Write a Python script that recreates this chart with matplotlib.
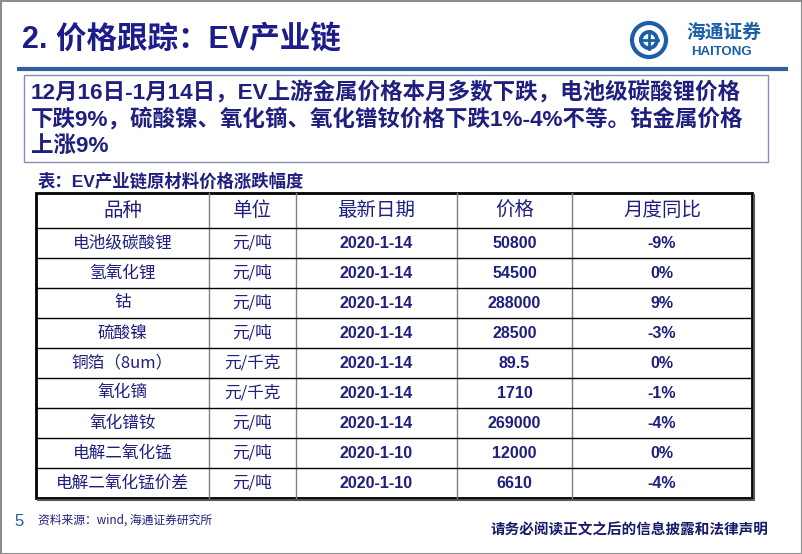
import matplotlib.pyplot as plt
from matplotlib.patches import Rectangle, Circle, Arc

# --- DATI ---
varieta = ['电池级碳酸锂', '氢氧化锂', '钴', '硫酸镍', '铜箔（8um）',
           '氧化镝', '氧化镨钕', '电解二氧化锰', '电解二氧化锰价差']
unita = ['元/吨', '元/吨', '元/吨', '元/吨', '元/千克',
         '元/千克', '元/吨', '元/吨', '元/吨']
date = ['2020-1-14', '2020-1-14', '2020-1-14', '2020-1-14', '2020-1-14',
        '2020-1-14', '2020-1-14', '2020-1-10', '2020-1-10']
prezzi = ['50800', '54500', '288000', '28500', '89.5',
          '1710', '269000', '12000', '6610']
variazione = ['-9%', '0%', '9%', '-3%', '0%', '-1%', '-4%', '0%', '-4%']
intestazioni = ['品种', '单位', '最新日期', '价格', '月度同比']
# -----------------------------

plt.rcParams['font.family'] = ['Noto Sans CJK SC', 'DejaVu Sans']
LAT = ['Liberation Sans', 'Noto Sans CJK SC']
NAVY = '#1f1f80'

fig = plt.figure(figsize=(8.02, 5.54), dpi=100)
ax = fig.add_axes([0, 0, 1, 1])
ax.set_xlim(0, 802)
ax.set_ylim(554, 0)
ax.axis('off')

# bordo esterno
ax.add_patch(Rectangle((0.5, 0.5), 801, 553, fill=False, ec='#8c8c8c', lw=1.5))

# titolo
ax.text(22, 40, '2. 价格跟踪：EV产业链', family=LAT, fontsize=22, fontweight='bold',
        color='#1c1c8c', va='center', ha='left')
ax.plot([17, 788], [69, 69], color='#2f5f9f', lw=3, solid_capstyle='butt')

# logo
ax.add_patch(Circle((649, 40), 17, fill=False, ec='#1a5fa8', lw=3))
for a in (0, 90, 180, 270):
    ax.add_patch(Arc((649, 40), 16, 16, angle=a, theta1=0, theta2=200, ec='#1a5fa8', lw=2.5))
ax.plot([640, 658], [40, 40], color='#1a5fa8', lw=2)
ax.plot([649, 649], [31, 49], color='#1a5fa8', lw=2)
ax.text(724, 32, '海通证券', fontsize=13.5, color='#1a5fa8', ha='center', va='center',
        style='italic', fontweight='bold')
ax.text(722, 52, 'HAITONG', family=LAT, fontsize=9.5, color='#1a5fa8', ha='center',
        va='center', fontweight='bold')

# riquadro testo
ax.add_patch(Rectangle((24, 75), 744, 87, fill=False, ec='#8a8ab8', lw=1))
righe = ['12月16日-1月14日，EV上游金属价格本月多数下跌，电池级碳酸锂价格',
         '下跌9%，硫酸镍、氧化镝、氧化镨钕价格下跌1%-4%不等。钴金属价格',
         '上涨9%']
for i, r in enumerate(righe):
    ax.text(31, 92 + i * 27, r, family=LAT, fontsize=16.2, fontweight='bold',
            color=NAVY, va='center', ha='left')

ax.text(38, 181, '表：EV产业链原材料价格涨跌幅度', family=LAT, fontsize=12.5,
        fontweight='bold', color=NAVY, va='center', ha='left')

# tabella
col_x = [36, 209, 296, 457, 572, 752]
y0, y_head, h = 193, 228, 30
n = len(varieta)
y_fine = y_head + n * h

for x in col_x[1:-1]:
    ax.plot([x, x], [y0, y_fine], color='#808080', lw=1)
for k in range(n):
    y = y_head + k * h
    ax.plot([col_x[0], col_x[-1]], [y, y], color='black', lw=1)
ax.add_patch(Rectangle((col_x[0], y0), col_x[-1] - col_x[0], y_fine - y0,
                       fill=False, ec='black', lw=2))
ax.plot([col_x[0] + 2, col_x[-1] + 2, col_x[-1] + 2], [y_fine + 2, y_fine + 2, y0 + 2],
        color='#555555', lw=1.5)

centri = [(col_x[j] + col_x[j + 1]) / 2 for j in range(5)]
for j, t in enumerate(intestazioni):
    ax.text(centri[j], (y0 + y_head) / 2, t, fontsize=14, color=NAVY,
            ha='center', va='center')

for k in range(n):
    yc = y_head + k * h + h / 2
    ax.text(centri[0], yc, varieta[k], fontsize=12, color=NAVY, ha='center', va='center')
    ax.text(centri[1], yc, unita[k], fontsize=12, color=NAVY, ha='center', va='center')
    for j, col in ((2, date), (3, prezzi), (4, variazione)):
        ax.text(centri[j], yc, col[k], family=LAT, fontsize=11.5, fontweight='bold',
                color=NAVY, ha='center', va='center')

# piè di pagina
ax.text(14, 521, '5', family=LAT, fontsize=12, color='#1a5fa8', va='center', ha='left')
ax.text(38, 520, '资料来源：wind, 海通证券研究所', fontsize=8.5, color=NAVY,
        va='center', ha='left')
ax.text(768, 529, '请务必阅读正文之后的信息披露和法律声明', fontsize=10.5,
        fontweight='bold', color='#1a1a6a', va='center', ha='right')

plt.savefig('out.png', dpi=100)
